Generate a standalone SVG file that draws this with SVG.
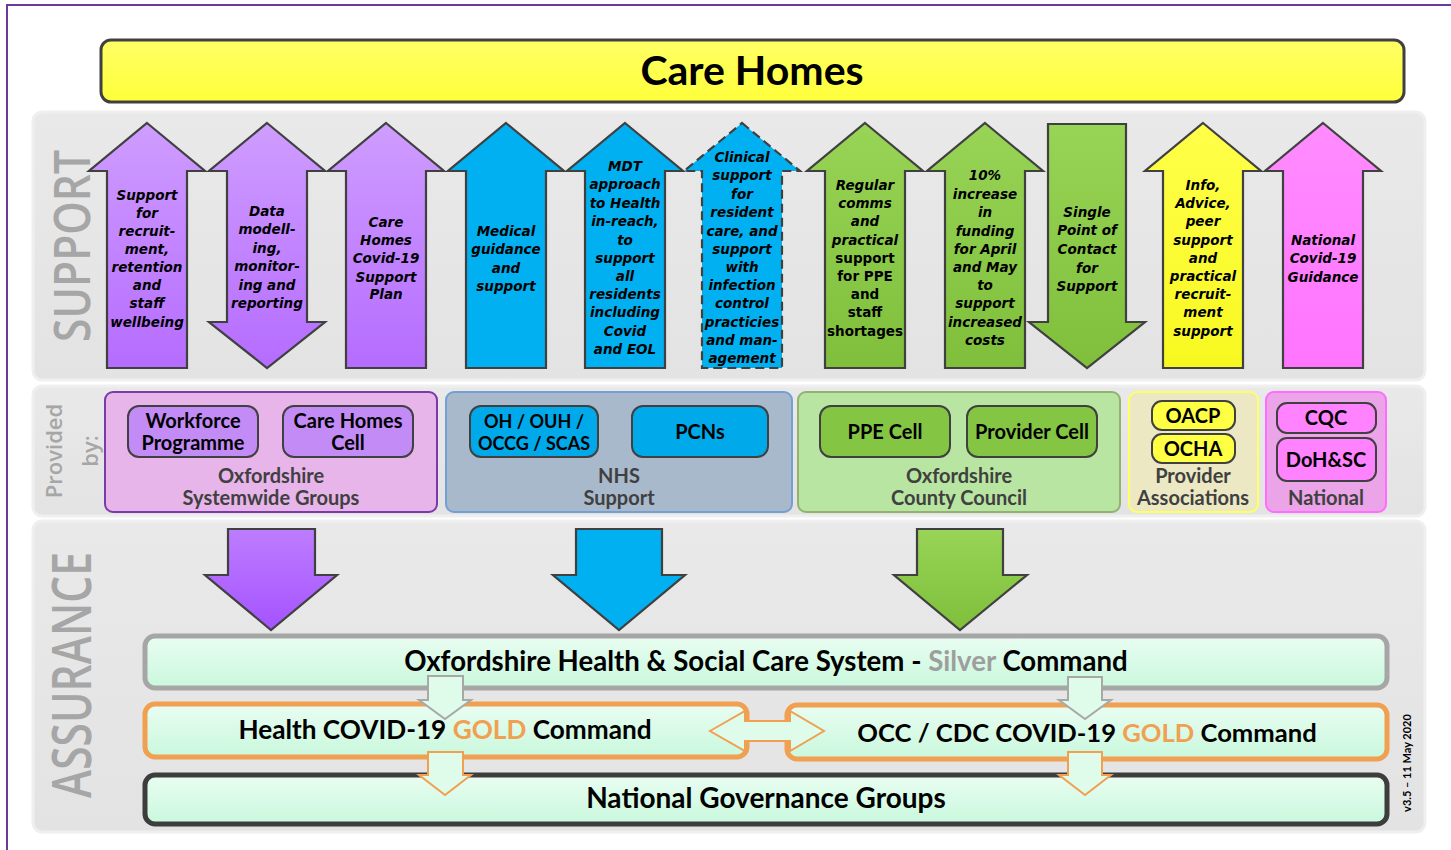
<svg xmlns="http://www.w3.org/2000/svg" width="1451" height="850" viewBox="0 0 1451 850">
  <defs>
    <linearGradient id="gPurple" x1="0" y1="0" x2="0" y2="1">
      <stop offset="0" stop-color="#cf9dff"/>
      <stop offset="1" stop-color="#b56cff"/>
    </linearGradient>
    <linearGradient id="gPurpleDark" x1="0" y1="0" x2="0" y2="1">
      <stop offset="0" stop-color="#bd7dff"/>
      <stop offset="1" stop-color="#a553ff"/>
    </linearGradient>
    <linearGradient id="gGreen" x1="0" y1="0" x2="0" y2="1">
      <stop offset="0" stop-color="#98d456"/>
      <stop offset="1" stop-color="#7fbf3b"/>
    </linearGradient>
    <linearGradient id="gYellow" x1="0" y1="0" x2="0" y2="1">
      <stop offset="0" stop-color="#ffff4a"/>
      <stop offset="1" stop-color="#f8f820"/>
    </linearGradient>
    <linearGradient id="gPink" x1="0" y1="0" x2="0" y2="1">
      <stop offset="0" stop-color="#ff8cff"/>
      <stop offset="1" stop-color="#ff74ff"/>
    </linearGradient>
    <linearGradient id="gMint" x1="0" y1="0" x2="0" y2="1">
      <stop offset="0" stop-color="#e9fdf1"/>
      <stop offset="1" stop-color="#c9f8dd"/>
    </linearGradient>
    <linearGradient id="gBar" x1="0" y1="0" x2="0" y2="1">
      <stop offset="0" stop-color="#ffff66"/>
      <stop offset="1" stop-color="#ffff3a"/>
    </linearGradient>
    <linearGradient id="gPanel" x1="0" y1="0" x2="0" y2="1">
      <stop offset="0" stop-color="#e9e9e9"/>
      <stop offset="1" stop-color="#e3e3e3"/>
    </linearGradient>
  </defs>
  <style>
    .panel { fill: url(#gPanel); stroke: #efefef; stroke-width: 3; }
    .side { font-family: "Open Sans", Lato, "Liberation Sans", sans-serif; fill: #a6a6a6; font-weight: 600; }
    .arrow { stroke: #404040; stroke-width: 2.2; stroke-linejoin: miter; }
    .purple { fill: url(#gPurple); }
    .blue { fill: #00b0f0; }
    .green { fill: url(#gGreen); }
    .yellow { fill: url(#gYellow); }
    .pink { fill: url(#gPink); }
    .dashed { stroke-dasharray: 9 5; }
    .at { font-family: "DejaVu Sans", "Liberation Sans", sans-serif; font-weight: bold; font-style: italic; font-size: 13.5px; fill: #000; text-anchor: middle; }
    .up { font-style: normal; }
    .grp { stroke-width: 2; }
    .cell { stroke: #404040; stroke-width: 2; }
    .ct { font-family: Lato, "Liberation Sans", sans-serif; font-weight: bold; font-size: 20px; fill: #000; text-anchor: middle; }
    .gl { font-family: Lato, "Liberation Sans", sans-serif; font-weight: bold; font-size: 20px; fill: #404040; text-anchor: middle; }
    .cmd { fill: url(#gMint); stroke-width: 5; }
    .bt { font-family: Lato, "Liberation Sans", sans-serif; font-weight: bold; font-size: 27px; fill: #000; text-anchor: middle; }
    .gold { fill: #f0a050; }
    .silver { fill: #9e9e9e; }
  </style>

  <!-- page frame -->
  <path d="M7,850 V5 H1451" fill="none" stroke="#6b3a9c" stroke-width="2"/>

  <!-- banner -->
  <g id="care-homes">
    <rect x="101" y="40" width="1303" height="62" rx="10" fill="url(#gBar)" stroke="#404040" stroke-width="3"/>
    <text x="752" y="85" font-family="Lato, 'Liberation Sans', sans-serif" font-weight="bold" font-size="41" text-anchor="middle" fill="#000">Care Homes</text>
  </g>

  <!-- section backgrounds -->
  <g id="sections">
    <rect class="panel" x="33" y="112" width="1392" height="268" rx="9"/>
    <rect class="panel" x="33" y="386" width="1392" height="130" rx="9"/>
    <rect class="panel" x="33" y="521" width="1392" height="311" rx="9"/>
    <text class="side" transform="translate(90,246) rotate(-90)" font-size="50" text-anchor="middle" textLength="192" lengthAdjust="spacingAndGlyphs">SUPPORT</text>
    <text class="side" transform="translate(62,451) rotate(-90)" font-size="22" text-anchor="middle">Provided</text>
    <text class="side" transform="translate(98,451) rotate(-90)" font-size="22" text-anchor="middle">by:</text>
    <text class="side" transform="translate(91,675) rotate(-90)" font-size="54" text-anchor="middle" textLength="246" lengthAdjust="spacingAndGlyphs">ASSURANCE</text>
  </g>

  <!-- support arrows -->
  <g id="support-workforce">
    <path class="arrow purple" d="M147,123 L205,171 L187,171 L187,368 L107,368 L107,171 L89,171 Z"/>
    <text class="at"><tspan x="147" y="200">Support</tspan><tspan x="147" y="218">for</tspan><tspan x="147" y="236">recruit-</tspan><tspan x="147" y="254">ment,</tspan><tspan x="147" y="272">retention</tspan><tspan x="147" y="290">and</tspan><tspan x="147" y="308">staff</tspan><tspan x="147" y="327">wellbeing</tspan></text>
  </g>
  <g id="support-data">
    <path class="arrow purple" d="M267,123 L325,171 L307,171 L307,322 L325,322 L267,368 L209,322 L227,322 L227,171 L209,171 Z"/>
    <text class="at"><tspan x="267" y="216">Data</tspan><tspan x="267" y="234">modell-</tspan><tspan x="267" y="253">ing,</tspan><tspan x="267" y="271">monitor-</tspan><tspan x="267" y="290">ing and</tspan><tspan x="267" y="308">reporting</tspan></text>
  </g>
  <g id="support-plan">
    <path class="arrow purple" d="M386,123 L444,171 L426,171 L426,368 L346,368 L346,171 L328,171 Z"/>
    <text class="at"><tspan x="386" y="227">Care</tspan><tspan x="386" y="245">Homes</tspan><tspan x="386" y="263">Covid-19</tspan><tspan x="386" y="282">Support</tspan><tspan x="386" y="299">Plan</tspan></text>
  </g>
  <g id="support-medical">
    <path class="arrow blue" d="M506,123 L564,171 L546,171 L546,368 L466,368 L466,171 L448,171 Z"/>
    <text class="at"><tspan x="506" y="236">Medical</tspan><tspan x="506" y="254">guidance</tspan><tspan x="506" y="273">and</tspan><tspan x="506" y="291">support</tspan></text>
  </g>
  <g id="support-mdt">
    <path class="arrow blue" d="M625,123 L683,171 L665,171 L665,368 L585,368 L585,171 L567,171 Z"/>
    <text class="at"><tspan x="625" y="171">MDT</tspan><tspan x="625" y="189">approach</tspan><tspan x="625" y="208">to Health</tspan><tspan x="625" y="226">in-reach,</tspan><tspan x="625" y="245">to</tspan><tspan x="625" y="263">support</tspan><tspan x="625" y="281">all</tspan><tspan x="625" y="299">residents</tspan><tspan x="625" y="317">including</tspan><tspan x="625" y="336">Covid</tspan><tspan x="625" y="354">and EOL</tspan></text>
  </g>
  <g id="support-clinical">
    <path class="arrow blue dashed" d="M742,123 L800,171 L782,171 L782,368 L702,368 L702,171 L684,171 Z"/>
    <text class="at"><tspan x="742" y="162">Clinical</tspan><tspan x="742" y="180">support</tspan><tspan x="742" y="199">for</tspan><tspan x="742" y="217">resident</tspan><tspan x="742" y="236">care, and</tspan><tspan x="742" y="254">support</tspan><tspan x="742" y="272">with</tspan><tspan x="742" y="290">infection</tspan><tspan x="742" y="308">control</tspan><tspan x="742" y="327">practicies</tspan><tspan x="742" y="345">and man-</tspan><tspan x="742" y="363">agement</tspan></text>
  </g>
  <g id="support-ppe">
    <path class="arrow green" d="M865,123 L923,171 L905,171 L905,368 L825,368 L825,171 L807,171 Z"/>
    <text class="at"><tspan x="865" y="190">Regular</tspan><tspan x="865" y="208">comms</tspan><tspan x="865" y="226">and</tspan><tspan x="865" y="245">practical</tspan><tspan class="up" x="865" y="263">support</tspan><tspan class="up" x="865" y="281">for PPE</tspan><tspan class="up" x="865" y="299">and</tspan><tspan class="up" x="865" y="317">staff</tspan><tspan class="up" x="865" y="336">shortages</tspan></text>
  </g>
  <g id="support-funding">
    <path class="arrow green" d="M985,123 L1043,171 L1025,171 L1025,368 L945,368 L945,171 L927,171 Z"/>
    <text class="at"><tspan x="985" y="180">10%</tspan><tspan x="985" y="199">increase</tspan><tspan x="985" y="217">in</tspan><tspan x="985" y="236">funding</tspan><tspan x="985" y="254">for April</tspan><tspan x="985" y="272">and May</tspan><tspan x="985" y="290">to</tspan><tspan x="985" y="308">support</tspan><tspan x="985" y="327">increased</tspan><tspan x="985" y="345">costs</tspan></text>
  </g>
  <g id="support-contact">
    <path class="arrow green" d="M1048,124 L1126,124 L1126,322 L1145,322 L1087,368 L1029,322 L1048,322 Z"/>
    <text class="at"><tspan x="1087" y="217">Single</tspan><tspan x="1087" y="235">Point of</tspan><tspan x="1087" y="254">Contact</tspan><tspan x="1087" y="273">for</tspan><tspan x="1087" y="291">Support</tspan></text>
  </g>
  <g id="support-info">
    <path class="arrow yellow" d="M1203,123 L1261,171 L1243,171 L1243,368 L1163,368 L1163,171 L1145,171 Z"/>
    <text class="at"><tspan x="1203" y="190">Info,</tspan><tspan x="1203" y="208">Advice,</tspan><tspan x="1203" y="226">peer</tspan><tspan x="1203" y="245">support</tspan><tspan x="1203" y="263">and</tspan><tspan x="1203" y="281">practical</tspan><tspan x="1203" y="299">recruit-</tspan><tspan x="1203" y="317">ment</tspan><tspan x="1203" y="336">support</tspan></text>
  </g>
  <g id="support-guidance">
    <path class="arrow pink" d="M1323,123 L1381,171 L1363,171 L1363,368 L1283,368 L1283,171 L1265,171 Z"/>
    <text class="at"><tspan x="1323" y="245">National</tspan><tspan x="1323" y="263">Covid-19</tspan><tspan x="1323" y="282">Guidance</tspan></text>
  </g>

  <!-- providers -->
  <g id="provider-systemwide">
    <rect class="grp" x="105" y="392" width="332" height="120" rx="8" fill="#e7b5ea" stroke="#7a3aa8"/>
    <rect class="cell" x="128" y="406" width="130" height="51" rx="11" fill="#c28bf6"/>
    <rect class="cell" x="283" y="406" width="130" height="51" rx="11" fill="#c28bf6"/>
    <text class="ct"><tspan x="193" y="428">Workforce</tspan><tspan x="193" y="450">Programme</tspan></text>
    <text class="ct"><tspan x="348" y="428">Care Homes</tspan><tspan x="348" y="450">Cell</tspan></text>
    <text class="gl"><tspan x="271" y="483">Oxfordshire</tspan><tspan x="271" y="505">Systemwide Groups</tspan></text>
  </g>
  <g id="provider-nhs">
    <rect class="grp" x="446" y="392" width="346" height="120" rx="8" fill="#a8b9cc" stroke="#72a0d4"/>
    <rect class="cell" x="470" y="406" width="128" height="51" rx="11" fill="#00a9ea"/>
    <rect class="cell" x="632" y="406" width="136" height="51" rx="11" fill="#00a9ea"/>
    <text class="ct" style="font-size:18px"><tspan x="534" y="428">OH / OUH /</tspan><tspan x="534" y="450">OCCG / SCAS</tspan></text>
    <text class="ct" x="700" y="439">PCNs</text>
    <text class="gl"><tspan x="619" y="483">NHS</tspan><tspan x="619" y="505">Support</tspan></text>
  </g>
  <g id="provider-occ">
    <rect class="grp" x="798" y="392" width="322" height="120" rx="8" fill="#b9e5a2" stroke="#93b26f"/>
    <rect class="cell" x="820" y="406" width="130" height="51" rx="11" fill="#84c544"/>
    <rect class="cell" x="967" y="406" width="130" height="51" rx="11" fill="#84c544"/>
    <text class="ct" x="885" y="439">PPE Cell</text>
    <text class="ct" x="1032" y="439">Provider Cell</text>
    <text class="gl"><tspan x="959" y="483">Oxfordshire</tspan><tspan x="959" y="505">County Council</tspan></text>
  </g>
  <g id="provider-associations">
    <rect class="grp" x="1129" y="392" width="129" height="120" rx="8" fill="#ebe8c3" stroke="#ffff66"/>
    <rect class="cell" x="1152" y="401" width="83" height="29" rx="10" fill="#ffff44"/>
    <rect class="cell" x="1152" y="434" width="83" height="29" rx="10" fill="#ffff44"/>
    <text class="ct" x="1193" y="423">OACP</text>
    <text class="ct" x="1193" y="456">OCHA</text>
    <text class="gl"><tspan x="1193" y="483">Provider</tspan><tspan x="1193" y="505">Associations</tspan></text>
  </g>
  <g id="provider-national">
    <rect class="grp" x="1266" y="392" width="120" height="120" rx="8" fill="#eaa4e7" stroke="#ff6cff"/>
    <rect class="cell" x="1277" y="403" width="99" height="30" rx="10" fill="#ff82ff"/>
    <rect class="cell" x="1277" y="438" width="99" height="43" rx="10" fill="#ff82ff"/>
    <text class="ct" x="1326" y="425">CQC</text>
    <text class="ct" x="1326" y="467">DoH&amp;SC</text>
    <text class="gl" x="1326" y="505">National</text>
  </g>

  <!-- assurance boxes -->
  <g id="silver-command">
    <rect class="cmd" x="145" y="636" width="1242" height="52" rx="10" stroke="#a6a6a6"/>
    <text class="bt" x="766" y="671" style="font-size:27.6px">Oxfordshire Health &amp; Social Care System - <tspan class="silver">Silver</tspan> Command</text>
  </g>
  <g id="health-gold">
    <rect class="cmd" x="145" y="704" width="602" height="53" rx="10" stroke="#f0a050"/>
    <text class="bt" x="445" y="739" style="font-size:26.2px">Health COVID-19 <tspan class="gold">GOLD</tspan> Command</text>
  </g>
  <g id="occ-gold">
    <rect class="cmd" x="787" y="705" width="600" height="54" rx="10" stroke="#f0a050"/>
    <text class="bt" x="1087" y="742" style="font-size:25.6px">OCC / CDC COVID-19 <tspan class="gold">GOLD</tspan> Command</text>
  </g>
  <g id="national-governance">
    <rect class="cmd" x="145" y="775" width="1242" height="49" rx="10" stroke="#3d3d3d"/>
    <text class="bt" x="766" y="808" style="font-size:28px">National Governance Groups</text>
  </g>

  <!-- connectors -->
  <g id="connectors">
    <path class="arrow" fill="url(#gPurpleDark)" d="M228,529 L315,529 L315,575 L337,575 L271,630 L205,575 L228,575 Z"/>
    <path class="arrow blue" d="M576,529 L662,529 L662,575 L685,575 L619,630 L553,575 L576,575 Z"/>
    <path class="arrow green" d="M917,529 L1003,529 L1003,575 L1027,575 L960,630 L894,575 L917,575 Z"/>
    <path fill="#dffbea" stroke="#a8a8a8" stroke-width="2" d="M428,676 L463,676 L463,700 L471,700 L445,719 L419,700 L428,700 Z"/>
    <path fill="#dffbea" stroke="#a8a8a8" stroke-width="2" d="M1068,677 L1102,677 L1102,700 L1111,700 L1085,719 L1059,700 L1068,700 Z"/>
    <path fill="#dffbea" stroke="#f0a050" stroke-width="2" d="M428,752 L463,752 L463,775 L471,775 L445,795 L419,775 L428,775 Z"/>
    <path fill="#dffbea" stroke="#f0a050" stroke-width="2" d="M1068,752 L1102,752 L1102,775 L1111,775 L1085,795 L1059,775 L1068,775 Z"/>
    <path fill="#dffbea" stroke="#f0a050" stroke-width="2" d="M710,731 L745,711 L745,721 L790,721 L790,711 L824,731 L790,751 L790,741 L745,741 L745,751 Z"/>
  </g>

  <text transform="translate(1411,763) rotate(-90)" font-family="Lato, 'Liberation Sans', sans-serif" font-weight="bold" font-size="11" text-anchor="middle" fill="#000">v3.5 – 11 May 2020</text>
</svg>
